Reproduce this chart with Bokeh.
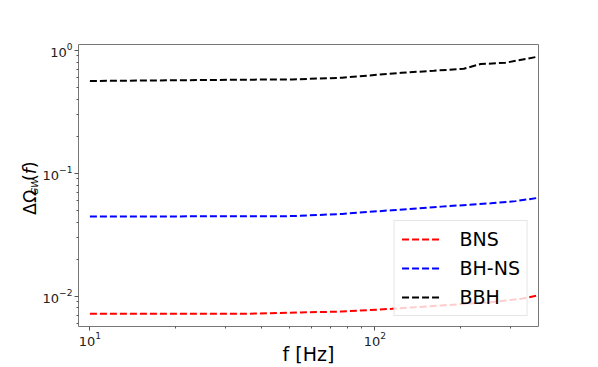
import math
from bokeh.plotting import figure
from bokeh.layouts import row
from bokeh.models import Range1d, FixedTicker, LogTickFormatter, Legend, LegendItem
from bokeh.core.properties import value
from bokeh.embed import file_html
from bokeh.resources import INLINE

# ---- data ----
bns_f = [10, 34.4, 76.7, 114.6, 171, 255, 325, 373]
bns_v = [0.00716, 0.00716, 0.00748, 0.00787, 0.00838, 0.00891, 0.00948, 0.0101]

bhns_f = [10, 34.4, 51.4, 76.7, 114.6, 171, 255, 312, 373]
bhns_v = [0.0443, 0.0446, 0.0447, 0.0466, 0.0499, 0.0534, 0.0568, 0.0592, 0.0629]

bbh_f = [10, 34.4, 51.4, 76.7, 124, 161, 205, 235, 287, 371]
bbh_v = [0.562, 0.576, 0.579, 0.598, 0.656, 0.681, 0.708, 0.772, 0.791, 0.885]

series_names = ["BNS", "BH-NS", "BBH"]
series_colors = ["#ff0000", "#0000ff", "#000000"]

x_major = [10, 100]
x_minor = [20, 30, 40, 50, 60, 70, 80, 90, 200, 300]
y_major = [0.01, 0.1, 1.0]
y_minor = [0.006, 0.007, 0.008, 0.009,
           0.02, 0.03, 0.04, 0.05, 0.06, 0.07, 0.08, 0.09,
           0.2, 0.3, 0.4, 0.5, 0.6, 0.7, 0.8, 0.9]

x_label = "f [Hz]"
y_label_parts = ["ΔΩ", "GW", "(", "f", ")"]

H = 367
YW = 39  # width of the strip holding the y-axis title

p = figure(width=598 - YW, height=H, x_axis_type="log", y_axis_type="log",
           x_range=Range1d(9.12, 375), y_range=Range1d(0.00565, 1.114),
           output_backend="svg", toolbar_location=None,
           min_border_left=75 - YW, min_border_right=60, min_border_top=44, min_border_bottom=41)

p.background_fill_color = "white"
p.border_fill_color = "white"
p.outline_line_color = "#777777"
p.outline_line_width = 1
p.grid.visible = False

p.xaxis.ticker = FixedTicker(ticks=x_major, minor_ticks=x_minor)
p.yaxis.ticker = FixedTicker(ticks=y_major, minor_ticks=y_minor)
p.xaxis.formatter = LogTickFormatter()
p.yaxis.formatter = LogTickFormatter()
for ax in (p.xaxis, p.yaxis):
    ax.axis_line_color = None
    ax.major_tick_in = 0
    ax.major_tick_out = 4
    ax.minor_tick_in = 0
    ax.minor_tick_out = 2
    ax.major_tick_line_color = "#555555"
    ax.minor_tick_line_color = "#555555"
    ax.major_label_text_font = "DejaVu Sans"
    ax.major_label_text_font_size = "13px"
    ax.major_label_text_color = "#222222"
p.xaxis.major_label_standoff = 1
p.yaxis.major_label_standoff = 2

p.xaxis.axis_label = x_label
p.xaxis.axis_label_text_font = "DejaVu Sans"
p.xaxis.axis_label_text_font_size = "19px"
p.xaxis.axis_label_text_font_style = "normal"
p.xaxis.axis_label_text_color = "black"
p.xaxis.axis_label_standoff = -6

renderers = []
for fs, vs, col in zip([bns_f, bhns_f, bbh_f], [bns_v, bhns_v, bbh_v], series_colors):
    r = p.line(fs, vs, line_color=col, line_width=2, line_dash="7 3")
    renderers.append(r)

legend = Legend(items=[LegendItem(label=n, renderers=[r]) for n, r in zip(series_names, renderers)],
                location="bottom_right", margin=10, padding=7, spacing=7,
                label_height=22, glyph_height=22, glyph_width=40, label_standoff=18,
                label_text_font="DejaVu Sans", label_text_font_size="19px",
                label_text_color="black",
                border_line_color="#cccccc", border_line_width=1,
                background_fill_color="white", background_fill_alpha=0.8)
p.add_layout(legend, "center")

# strip on the left carrying the rotated y-axis title; its ranges equal its pixel size
yf = figure(width=YW, height=H, x_axis_type=None, y_axis_type=None,
            output_backend="svg", toolbar_location=None, min_border=0,
            x_range=Range1d(0, YW), y_range=Range1d(0, H))
yf.outline_line_color = None
yf.grid.visible = False
yf.background_fill_color = "white"
yf.border_fill_color = "white"

a = math.pi / 2
# (baseline x, start y measured from top of the page, font size, style)
specs = [
    (29.5, 222.0, "17.5px", "normal"),
    (33.5, 196.0, "9.5px", "italic"),
    (29.5, 177.5, "17.5px", "normal"),
    (29.5, 169.0, "17.5px", "italic"),
    (29.5, 161.0, "17.5px", "normal"),
]
for txt, (bx, top_y, size, style) in zip(y_label_parts, specs):
    yf.text(x=[bx], y=[H - top_y], text=[txt], angle=a,
            text_font=value("DejaVu Sans"), text_font_size=size, text_font_style=style,
            text_align="left", text_baseline="alphabetic", text_color="black")

layout = row(yf, p)
open("out.html", "w").write(file_html(layout, INLINE))
